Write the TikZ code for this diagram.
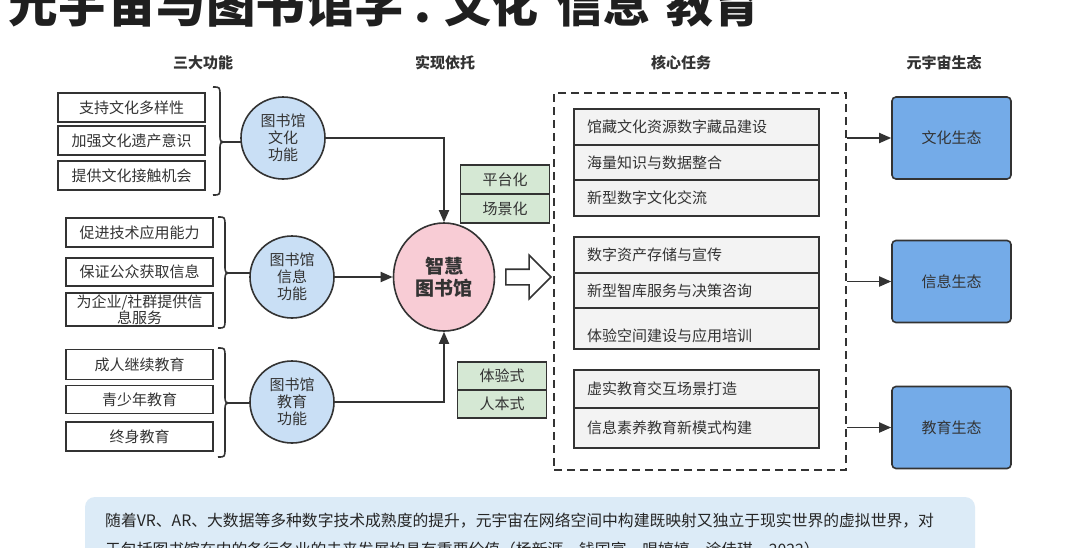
\documentclass[tikz,border=0pt]{standalone}
\usepackage{fontspec}
\setmainfont{Noto Sans CJK SC}
\usetikzlibrary{arrows.meta,shapes.geometric,shapes.arrows}
\definecolor{dk}{HTML}{333333}
\definecolor{cblue}{HTML}{C9DFF5}
\definecolor{cpink}{HTML}{F8CCD5}
\definecolor{cgreen}{HTML}{D5E8D4}
\definecolor{tgray}{HTML}{F3F3F3}
\definecolor{eblue}{HTML}{74ABE8}
\definecolor{nblue}{HTML}{DCEBF7}
\newcommand\curlybr[5]{%
  \draw[brc] (#1,#2) .. controls (#1+7,#2) and (#1+7,#2) .. (#1+7,#2+9)
    -- (#1+7,#3-8) .. controls (#1+7,#3) and (#1+7,#3) .. (#1+14,#3) -- (#5,#3);
  \draw[brc] (#1+14,#3) .. controls (#1+7,#3) and (#1+7,#3) .. (#1+7,#3+8)
    -- (#1+7,#4-9) .. controls (#1+7,#4) and (#1+7,#4) .. (#1,#4);
}
\begin{document}
\begin{tikzpicture}[x=1pt,y=-1pt,
  txt/.style={text=dk,font=\fontsize{15}{17}\selectfont},
  hdr/.style={text=dk,font=\bfseries\fontsize{15}{17}\selectfont},
  lbox/.style={txt,draw=dk,line width=1.6pt,fill=white,minimum width=147pt,inner sep=0pt,align=center},
  fcirc/.style={txt,ellipse,draw=dk,line width=1.6pt,fill=cblue,minimum width=84pt,minimum height=82pt,inner sep=0pt,align=center},
  smartc/.style={ellipse,draw=dk,line width=1.6pt,fill=cpink,minimum width=101pt,minimum height=108pt,inner sep=0pt,align=center,text=dk,font=\bfseries\fontsize{19}{22}\selectfont},
  gbox/.style={txt,draw=dk,line width=1.6pt,fill=cgreen,minimum width=89pt,minimum height=29pt,inner sep=0pt},
  tbox/.style={txt,draw=dk,line width=1.6pt,fill=tgray,minimum width=245pt,text width=219pt,inner xsep=13pt,inner ysep=0pt,align=left},
  ebox/.style={txt,draw=dk,line width=1.6pt,fill=eblue,rounded corners=4pt,minimum width=119pt,minimum height=82pt},
  arr/.style={draw=dk,line width=1.8pt,-{Triangle[length=12pt,width=10pt]}},
  brc/.style={draw=dk,line width=1.6pt},
  hollow/.style={single arrow,draw=dk,line width=1.6pt,fill=white,minimum height=45pt,minimum width=0pt,
    inner xsep=0pt,inner ysep=7pt,single arrow head extend=14pt,single arrow head indent=0pt},
  dashbox/.style={draw=dk,line width=2pt,dash pattern=on 8pt off 5pt,minimum width=292pt,minimum height=377pt,inner sep=0pt}
]
\useasboundingbox (0,0) rectangle (1080,547);
\fill[white] (0,0) rectangle (1080,547);

% title (cut at the top, as in the reference)
\node[anchor=base west,inner sep=0pt,text=black!88,font=\bfseries\fontsize{49.5}{49.5}\selectfont] (title) at (8,22)
  {元宇宙与图书馆学\hspace{6pt}\makebox[34pt][l]{：}{\fontsize{47}{47}\selectfont 文化\hspace{18pt}信息\hspace{16pt}教育}};

% headers
\node[hdr] (h1) at (203,63) {三大功能};
\node[hdr] (h2) at (445,63) {实现依托};
\node[hdr] (h3) at (681,63) {核心任务};
\node[hdr] (h4) at (944,63) {元宇宙生态};

% left boxes
\node[lbox,minimum height=29pt] (a1) at (131.5,107.5) {支持文化多样性};
\node[lbox,minimum height=29pt] (a2) at (131.5,140.5) {加强文化遗产意识};
\node[lbox,minimum height=29pt] (a3) at (131.5,175.5) {提供文化接触机会};

\node[lbox,minimum height=29pt] (b1) at (139.5,232.5) {促进技术应用能力};
\node[lbox,minimum height=28pt] (b2) at (139.5,272) {保证公众获取信息};
\node[lbox,minimum height=33pt,font=\fontsize{15}{16}\selectfont] (b3) at (139.5,309.5) {为企业/社群提供信\\息服务};

\node[lbox,minimum height=30pt] (d1) at (139.5,364.5) {成人继续教育};
\node[lbox,minimum height=28pt] (d2) at (139.5,399.5) {青少年教育};
\node[lbox,minimum height=29pt] (d3) at (139.5,436.5) {终身教育};

% braces
\curlybr{213}{87}{142}{195}{241}
\curlybr{218}{217}{273}{328}{250}
\curlybr{218}{348}{403}{457}{250}

% function circles
\node[fcirc] (c1) at (283,138) {图书馆\\文化\\功能};
\node[fcirc] (c2) at (292,277) {图书馆\\信息\\功能};
\node[fcirc] (c3) at (292,402) {图书馆\\教育\\功能};

% smart library
\node[smartc] (smart) at (444,277) {智慧\\图书馆};

% green boxes
\node[gbox] (g1) at (505,179.5) {平台化};
\node[gbox] (g2) at (505,208.5) {场景化};
\node[gbox,minimum height=28pt] (g3) at (502,376) {体验式};
\node[gbox,minimum height=28pt] (g4) at (502,404) {人本式};

% connectors to smart library
\draw[arr] (c1.east) -| (smart.north);
\draw[arr] (c2.east) -- (smart.west);
\draw[arr] (c3.east) -| (smart.south);

% hollow arrow
\node[hollow] (big) at (524.5,277) {};

% task container
\node[dashbox] (task) at (700,281.5) {};

\node[tbox,minimum height=36pt] (t1) at (696.5,127) {馆藏文化资源数字藏品建设};
\node[tbox,minimum height=35pt] (t2) at (696.5,162.5) {海量知识与数据整合};
\node[tbox,minimum height=36pt] (t3) at (696.5,198) {新型数字文化交流};

\node[tbox,minimum height=36pt] (t4) at (696.5,255) {数字资产存储与宣传};
\node[tbox,minimum height=35pt] (t5) at (696.5,290.5) {新型智库服务与决策咨询};
\node[tbox,minimum height=41pt,text height=28pt] (t6) at (696.5,328.5) {体验空间建设与应用培训};

\node[tbox,minimum height=38pt] (t7) at (696.5,389) {虚实教育交互场景打造};
\node[tbox,minimum height=40pt] (t8) at (696.5,428) {信息素养教育新模式构建};

% ecology boxes
\node[ebox] (e1) at (951.5,138) {文化生态};
\node[ebox] (e2) at (951.5,281.5) {信息生态};
\node[ebox] (e3) at (951.5,427.5) {教育生态};

\draw[arr] (task.east |- e1.west) -- (e1.west);
\draw[arr] (task.east |- e2.west) -- (e2.west);
\draw[arr] (task.east |- e3.west) -- (e3.west);

% note at the bottom (cut at the bottom edge)
\fill[nblue,rounded corners=10pt] (85,497) rectangle (975,590);
\node[anchor=base west,inner sep=0pt,text=black!85,font=\fontsize{15.8}{18}\selectfont] (n1) at (105,526)
  {随着VR、AR、大数据等多种数字技术成熟度的提升，元宇宙在网络空间中构建既映射又独立于现实世界的虚拟世界，对};
\node[anchor=base west,inner sep=0pt,text=black!85,font=\fontsize{15.8}{18}\selectfont] (n2) at (105,555)
  {于包括图书馆在内的各行各业的未来发展均具有重要价值（杨新涯、钱国富、唱婷婷、涂佳琪，2022）};
\end{tikzpicture}
\end{document}
